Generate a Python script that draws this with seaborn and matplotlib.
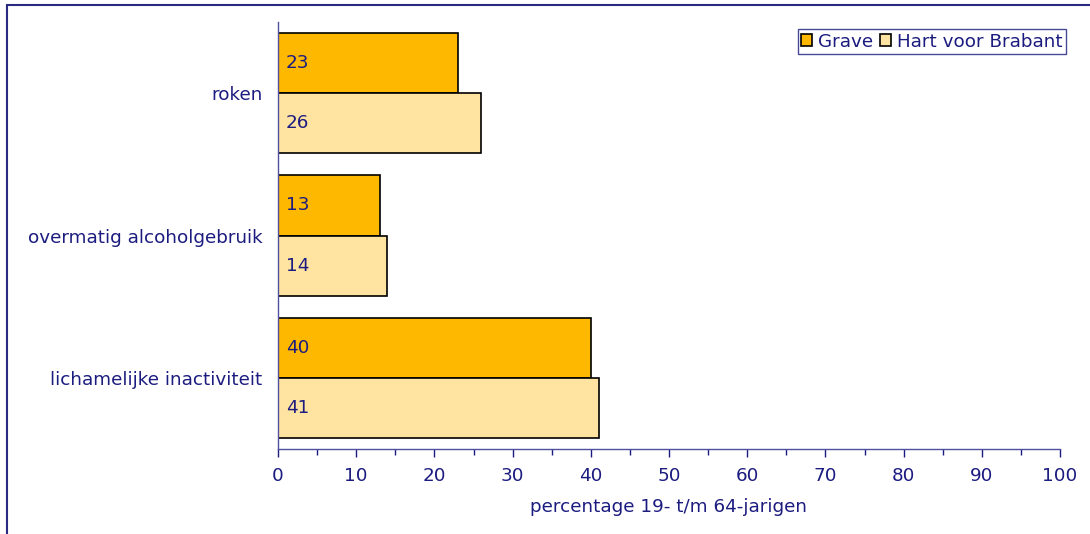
import pandas as pd
import seaborn as sns
import matplotlib.pyplot as plt
from matplotlib.patches import Patch, Rectangle
from matplotlib.ticker import MultipleLocator

# data
categories = ["roken", "overmatig alcoholgebruik", "lichamelijke inactiviteit"]
series = ["Grave", "Hart voor Brabant"]
grave = [23, 13, 40]
hvb = [26, 14, 41]

navy = "#1C1C80"
colors = ["#FFB800", "#FFE4A1"]
fs = 13.2

df = pd.DataFrame({
    "categorie": categories * 2,
    "regio": [series[0]] * 3 + [series[1]] * 3,
    "percentage": grave + hvb,
})

sns.set_style("white")
plt.rcParams["font.family"] = ["DejaVu Sans"]

fig = plt.figure(figsize=(10.9, 5.34), dpi=100)
ax = fig.add_axes([278 / 1090, 1 - 449 / 534, 782 / 1090, 427 / 534])

sns.barplot(data=df, x="percentage", y="categorie", hue="regio", orient="h",
            palette=colors, width=0.845, edgecolor="black", linewidth=1.2,
            saturation=1, legend=False, ax=ax)

# value labels inside the bars, at the left
vals = [grave, hvb]
for cont, v in zip(ax.containers, vals):
    for p, val in zip(cont, v):
        ax.text(p.get_x() + 1.0, p.get_y() + p.get_height() / 2, str(val),
                va="center", ha="left", color=navy, fontsize=fs)

ax.set_xlim(0, 100)
ax.set_ylim(2.5, -0.5)
ax.xaxis.set_major_locator(MultipleLocator(10))
ax.xaxis.set_minor_locator(MultipleLocator(5))
ax.tick_params(axis="x", which="major", direction="out", length=6, width=1,
               color=navy, labelcolor=navy, labelsize=fs, pad=7, bottom=True)
ax.tick_params(axis="x", which="minor", direction="out", length=4, width=1,
               color=navy, bottom=True)
ax.tick_params(axis="y", length=0, labelcolor=navy, labelsize=fs, pad=11)
ax.set_ylabel("")
ax.set_xlabel("percentage 19- t/m 64-jarigen", color=navy, fontsize=fs,
              labelpad=9)

for s in ["top", "right"]:
    ax.spines[s].set_visible(False)
for s in ["left", "bottom"]:
    ax.spines[s].set_color("#5050A0")
    ax.spines[s].set_linewidth(1)

handles = [Patch(facecolor=c, edgecolor="black", linewidth=1.2) for c in colors]
leg = fig.legend(handles, series, loc="upper right", ncol=2,
                 bbox_to_anchor=(1066 / 1090, 1 - 29 / 534),
                 bbox_transform=fig.transFigure, frameon=True, fancybox=False,
                 fontsize=fs, handlelength=0.6, handleheight=0.6,
                 handletextpad=0.3, columnspacing=0.4, borderpad=0.2,
                 borderaxespad=0)
for t in leg.get_texts():
    t.set_color(navy)
leg.get_frame().set_edgecolor(navy)
leg.get_frame().set_linewidth(1)

# outer frame, cut off at the right and bottom
fig.patches.append(Rectangle((7 / 1090, -0.1), 1.2, 1 - 5 / 534 + 0.1,
                             transform=fig.transFigure, fill=False,
                             edgecolor="#2A2A80", linewidth=1.5))

fig.savefig("out.png", dpi=100)
